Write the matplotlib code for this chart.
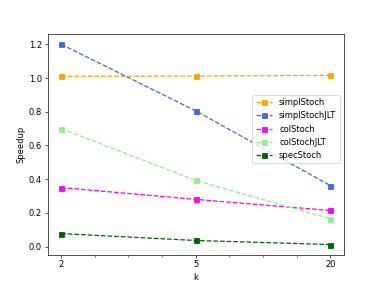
import numpy as np
import matplotlib.pyplot as plt
from matplotlib.ticker import MultipleLocator

k_labels = ["2", "5", "20"]

simplStoch = [1.010, 1.012, 1.016]
simplStochJLT = [1.200, 0.805, 0.362]
colStoch = [0.350, 0.280, 0.214]
colStochJLT = [0.700, 0.392, 0.166]
specStoch = [0.077, 0.036, 0.012]

x = np.arange(len(k_labels))

fig = plt.figure(figsize=(382 / 60, 286 / 60), dpi=60)
ax = fig.add_subplot(111)

ax.plot(x, simplStoch, '--s', color='orange', label='simplStoch')
ax.plot(x, simplStochJLT, '--s', color='royalblue', label='simplStochJLT')
ax.plot(x, colStoch, '--s', color='magenta', label='colStoch')
ax.plot(x, colStochJLT, '--s', color='lightgreen', label='colStochJLT')
ax.plot(x, specStoch, '--s', color='darkgreen', label='specStoch')

ax.set_xticks(x)
ax.set_xticklabels(k_labels)
ax.xaxis.set_minor_locator(MultipleLocator(0.25))
ax.set_xlabel('k')
ax.set_ylabel('Speedup')
# legend sits a bit above the middle on the right
ax.legend(loc='center right', bbox_to_anchor=(1.0, 0.57))

fig.savefig('out.png', dpi=60)
